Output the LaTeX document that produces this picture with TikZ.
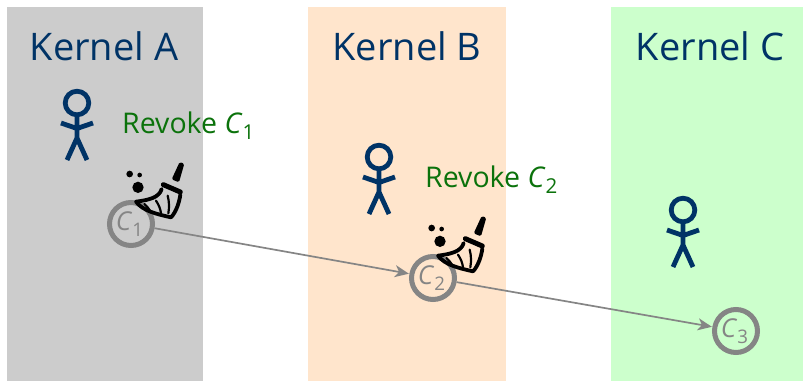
\documentclass[tikz,border=0pt]{standalone}
\usepackage{fontspec}
\setmainfont{Open Sans}
\usetikzlibrary{arrows.meta}
\definecolor{navy}{HTML}{003366}
\definecolor{revgreen}{HTML}{0B720B}
\definecolor{capgrey}{HTML}{858585}
\newcommand{\capsym}[1]{\textit{C}\raisebox{-0.22em}{\scalebox{0.72}{#1}}}
\tikzset{
  x=1pt,y=-1pt,
  panel/.style={anchor=north west,inner sep=0pt,outer sep=0pt,minimum height=374pt},
  kernel/.style={text=navy,font=\fontsize{38}{40}\selectfont,inner sep=0pt},
  revoke/.style={text=revgreen,font=\fontsize{28.5}{30}\selectfont,inner sep=0pt,anchor=base west},
  capnode/.style={circle,draw=capgrey,line width=5pt,minimum size=43pt,inner sep=0pt,text=capgrey,font=\fontsize{26}{28}\selectfont,execute at begin node=\kern-3pt},
  link/.style={draw=capgrey,line width=1.7pt,-{Stealth[length=14pt,width=12pt,inset=4pt]},shorten >=0.5pt},
  pics/person/.style={code={
    \draw[navy,line width=4.8pt] (0,0) circle (11.8);
    \draw[navy,line width=4.8pt] (0,13) -- (0,35) (-16,20) -- (0,25.5) -- (16,20) (-10,57) -- (0,35) -- (10,57);
  }},
  pics/broom/.style={code={
    \begin{scope}[x=0.3333pt,y=-0.3333pt]
    \fill[black] (-4,-150) circle (10) (26,-147) circle (7) (21,-110) circle (17);
    \fill[black,rounded corners=1.5pt] (146,-186) -- (160,-181) -- (144,-125) -- (122,-134) -- cycle;
    \draw[black,line width=5pt,line cap=round,line join=round] (97,-118) -- (148,-96);
    \draw[black,line width=3.8pt,line join=round,line cap=round]
      (92,-105) .. controls (85,-80) and (55,-72) .. (15,-67)
      .. controls (35,-40) and (75,-30) .. (120,-20)
      .. controls (135,-35) and (145,-65) .. (148,-88);
    \draw[black,line width=2.2pt,line cap=round]
      (40,-60) .. controls (50,-50) and (55,-45) .. (58,-38)
      (75,-70) .. controls (85,-55) and (88,-45) .. (90,-32)
      (110,-85) .. controls (115,-65) and (115,-50) .. (112,-32);
    \end{scope}
  }}
}
\begin{document}
\begin{tikzpicture}
\useasboundingbox (0,0) rectangle (803,381);
\node[panel,fill=black!20,minimum width=196pt] (pa) at (7,7) {};
\node[panel,fill=orange!20!white,minimum width=198pt] (pb) at (308,7) {};
\node[panel,fill=green!20!white,minimum width=192pt] (pc) at (611,7) {};
\node[kernel] (ka) at (104,46) {Kernel A};
\node[kernel] (kb) at (407,46) {Kernel B};
\node[kernel] (kc) at (710,46) {Kernel C};
\pic at (77,103) {person};
\pic at (379,157) {person};
\pic at (683,210) {person};
\node[revoke] (ra) at (122,133) {Revoke \capsym{1}};
\node[revoke] (rb) at (425,187) {Revoke \capsym{2}};
\node[capnode] (c1) at (131,224) {\capsym{1}};
\node[capnode] (c2) at (433,278) {\capsym{2}};
\node[capnode] (c3) at (736,331) {\capsym{3}};
\draw[link] (c1) -- (c2);
\draw[link] (c2) -- (c3);
\pic at (c1.center) {broom};
\pic at (c2.center) {broom};
\end{tikzpicture}
\end{document}
